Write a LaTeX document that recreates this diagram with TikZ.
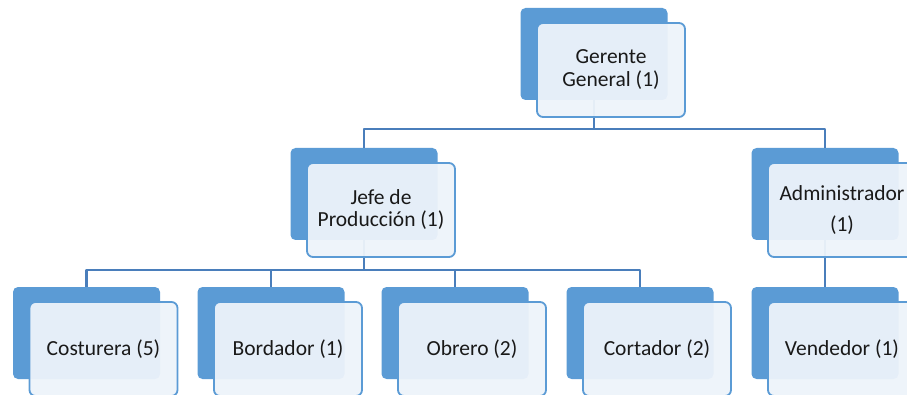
\documentclass[tikz,border=0pt]{standalone}
\usepackage{fontspec}
\setmainfont{Carlito}
\usepackage{xcolor}
\usetikzlibrary{positioning, calc}
\definecolor{chartblue}{HTML}{5B9BD5}
\definecolor{chartlight}{HTML}{EDF3FA}
\definecolor{chartline}{HTML}{4A7EBB}

\begin{document}
\begin{tikzpicture}[x=1pt, y=-1pt, line join=round]
    \tikzset{
        back/.style={rectangle, fill=chartblue, rounded corners=5pt, minimum width=147pt, minimum height=92pt, inner sep=0pt},
        front/.style={rectangle, draw=chartblue, line width=1.8pt, fill=chartlight, fill opacity=0.95, text opacity=1, rounded corners=6pt, minimum width=148pt, minimum height=94pt, inner sep=0pt, align=center, text=black!90, font=\fontsize{21.5}{22}\selectfont},
        line/.style={draw=chartline, line width=2.2pt}
    }
    \useasboundingbox (0,0) rectangle (907,395);

    % back boxes
    \node (GerenteBack) [back] at (594,54) {};
    \node (JefeBack) [back] at (364,194) {};
    \node (AdminBack) [back] at (825,194) {};
    \node (CostureraBack) [back] at (86.5,333) {};
    \node (BordadorBack) [back] at (271,333) {};
    \node (ObreroBack) [back] at (455,333) {};
    \node (CortadorBack) [back] at (640,333) {};
    \node (VendedorBack) [back] at (825,333) {};

    \coordinate (TopBus) at (594,129);
    \coordinate (LowBus) at (364,270);

    % connectors
    \path [line] (GerenteBack.south) -- (TopBus);
    \path [line] (JefeBack.north) |- (TopBus) -| (AdminBack.north);
    \path [line] (JefeBack.south) -- (LowBus);
    \path [line] (CostureraBack.north) |- (LowBus) -| (CortadorBack.north);
    \path [line] (BordadorBack.north) -- (BordadorBack.north |- LowBus);
    \path [line] (ObreroBack.north) -- (ObreroBack.north |- LowBus);
    \path [line] (AdminBack.south) -- (VendedorBack.north);

    % front boxes
    \node (Gerente) [front] at ([shift={(17,16)}]GerenteBack.center) {Gerente\\[1pt]General (1)};
    \node (Jefe) [front] at ([shift={(17,16)}]JefeBack.center) {Jefe de\\Producción (1)};
    \node (Admin) [front] at ([shift={(17,16)}]AdminBack.center) {Administrador\\[9pt](1)};
    \node (Costurera) [front] at ([shift={(17,16)}]CostureraBack.center) {Costurera (5)};
    \node (Bordador) [front] at ([shift={(17,16)}]BordadorBack.center) {Bordador (1)};
    \node (Obrero) [front] at ([shift={(17,16)}]ObreroBack.center) {Obrero (2)};
    \node (Cortador) [front] at ([shift={(17,16)}]CortadorBack.center) {Cortador (2)};
    \node (Vendedor) [front] at ([shift={(17,16)}]VendedorBack.center) {Vendedor (1)};
\end{tikzpicture}
\end{document}
